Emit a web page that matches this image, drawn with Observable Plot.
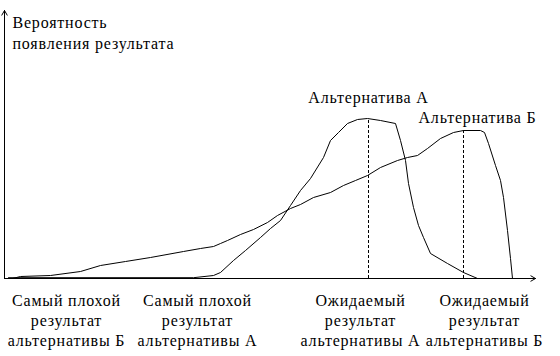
<!DOCTYPE html>
<html>
<head>
<meta charset="utf-8">
<script src="https://cdn.jsdelivr.net/npm/d3@7"></script>
<script src="https://cdn.jsdelivr.net/npm/@observablehq/plot@0.6"></script>
<style>
  html, body { margin: 0; padding: 0; background: #fff; }
  #chart { width: 560px; height: 356px; }
</style>
</head>
<body>
<div id="chart"></div>
<script>
// Outcome (x) and probability (y) in arbitrary units
const altA_x = [4, 189, 209, 216, 229, 241, 256, 266, 276, 286, 296, 306, 319, 326, 334, 343, 353, 363, 376, 391, 396, 401, 404, 409, 414, 419, 426, 443, 459, 473];
const altA_y = [0.8, 0.8, 3, 6, 18, 28, 41, 50, 58, 73, 88, 100, 121, 138, 146, 155, 159, 160, 158, 155, 138, 118, 95, 71, 53, 41, 25, 15, 6, 0];

const altB_x = [8, 16, 46, 76, 96, 121, 146, 179, 196, 209, 216, 223, 236, 249, 263, 273, 286, 296, 309, 326, 339, 351, 363, 376, 393, 403, 413, 423, 436, 449, 459, 476, 480, 484, 491, 496, 499, 503, 506, 508];
const altB_y = [0, 2, 3, 7, 13, 17, 21, 27, 30, 32, 35, 38, 44, 49, 56, 63, 70, 74, 81, 86, 93, 98, 103, 111, 118, 121, 123, 130, 140, 146, 148, 148, 146, 135, 113, 98, 81, 48, 20, 0];

const expected = [
  {name: "Альтернатива А", x: 364, y: 160},
  {name: "Альтернатива Б", x: 459, y: 148}
];

const bottomLabels = [
  {x: 62,  text: "Самый плохой\nрезультат\nальтернативы Б"},
  {x: 193, text: "Самый плохой\nрезультат\nальтернативы А"},
  {x: 356, text: "Ожидаемый\nрезультат\nальтернативы А"},
  {x: 480, text: "Ожидаемый\nрезультат\nальтернативы Б"}
];

const yTitle = "Вероятность\nпоявления результата";

const A = altA_x.map((x, i) => ({x, y: altA_y[i]}));
const B = altB_x.map((x, i) => ({x, y: altB_y[i]}));
const axes = [{x1: 0, y1: 0, x2: 531, y2: 0}, {x1: 0, y1: 0, x2: 0, y2: 268}];

const font = "Liberation Serif";

const chart = Plot.plot({
  width: 560,
  height: 356,
  marginLeft: 4,
  marginRight: 25,
  marginTop: 10,
  marginBottom: 78,
  style: {fontFamily: font, fontSize: "16px", background: "#fff", color: "#000"},
  x: {domain: [0, 531], axis: null},
  y: {domain: [0, 268], axis: null},
  marks: [
    Plot.arrow(axes, {x1: "x1", y1: "y1", x2: "x2", y2: "y2", stroke: "#000", strokeWidth: 1, headLength: 8, bend: 0}),
    Plot.ruleX(expected, {x: "x", y1: 0, y2: "y", stroke: "#000", strokeWidth: 1, strokeDasharray: "3,2"}),
    Plot.line(A, {x: "x", y: "y", stroke: "#000", strokeWidth: 1}),
    Plot.line(B, {x: "x", y: "y", stroke: "#000", strokeWidth: 1}),
    Plot.text([expected[0]], {x: "x", y: "y", text: "name", dy: -16, fill: "#000", fontSize: 16, fontFamily: font, lineAnchor: "bottom"}),
    Plot.text([expected[1]], {x: "x", y: "y", text: "name", dx: 14, dy: -8, fill: "#000", fontSize: 16, fontFamily: font, lineAnchor: "bottom"}),
    Plot.text(bottomLabels, {x: "x", y: 0, text: "text", dy: 13, lineAnchor: "top", lineHeight: 1.25, fill: "#000", fontSize: 16, fontFamily: font}),
    Plot.text([yTitle], {frameAnchor: "top-left", text: d => d, dx: 8, dy: 3, textAnchor: "start", lineAnchor: "top", lineHeight: 1.3, fill: "#000", fontSize: 16, fontFamily: font})
  ]
});
d3.select(chart).selectAll("text")
  .attr("font-family", font)
  .style("font-family", "'Liberation Serif', serif")
  .style("letter-spacing", "0.8px");
document.getElementById("chart").appendChild(chart);
</script>
</body>
</html>
